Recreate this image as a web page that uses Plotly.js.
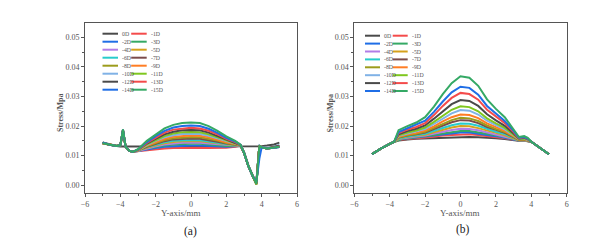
<!DOCTYPE html>
<html><head><meta charset="utf-8">
<script src="https://cdn.plot.ly/plotly-3.0.1.min.js"></script>
<style>html,body{margin:0;padding:0;background:#fff;}#chart{width:614px;height:244px;}</style>
</head><body><div id="chart"></div>
<script>
// ---- categories / legend labels ----
const seriesNames = ['0D','-1D','-2D','-3D','-4D','-5D','-6D','-7D','-8D','-9D','-10D','-11D','-12D','-13D','-14D','-15D'];
const seriesColors = ['#4a4a4a','#f44b4b','#1f6ee6','#35a965','#b27de6','#d5a11c','#27cccc','#7b4b4b','#9c9c1c','#ff7d24','#80b2e6','#7fc71f','#4a4a4a','#f44b4b','#1f6ee6','#35a965'];

// ---- panel (a): x positions (mm) and stress (MPa) ----
const xA = [-5,-4.6,-4.2,-4.0,-3.85,-3.7,-3.5,-3.3,-3.0,-2.5,-2.0,-1.5,-1.0,-0.5,0,0.5,1.0,1.5,2.0,2.5,2.8,3.0,3.25,3.5,3.7,3.87,4.0,4.3,4.7,5.0];
const aD0  = [.0145,.0138,.0133,.0131,.0131,.0130,.0130,.0130,.0130,.0130,.0130,.0130,.0130,.0130,.0130,.0130,.0130,.0130,.0130,.0130,.0131,.0131,.0131,.0131,.0131,.0132,.0132,.0134,.0138,.0144];
const aD1  = [.0142,.0137,.0133,.0135,.0181,.0130,.0117,.0113,.0115,.0119,.0122,.0124,.0126,.0127,.0127,.0127,.0126,.0126,.0127,.0130,.0134,.0110,.0065,.0030,.0006,.0134,.0128,.0124,.0127,.0131];
const aD2  = [.0144,.0137,.0133,.0135,.0182,.0130,.0117,.0113,.0116,.0122,.0126,.0130,.0132,.0134,.0134,.0134,.0132,.0131,.0130,.0132,.0134,.0110,.0065,.0030,.0010,.0134,.0128,.0124,.0127,.0129];
const aD3  = [.0142,.0137,.0133,.0135,.0182,.0130,.0117,.0113,.0116,.0124,.0130,.0134,.0138,.0140,.0140,.0140,.0137,.0135,.0133,.0133,.0134,.0110,.0065,.0030,.0004,.0134,.0128,.0124,.0127,.0130];
const aD4  = [.0144,.0137,.0133,.0135,.0183,.0130,.0117,.0113,.0116,.0125,.0132,.0138,.0142,.0144,.0144,.0144,.0141,.0138,.0135,.0134,.0135,.0110,.0065,.0030,.0008,.0134,.0128,.0124,.0127,.0132];
const aD5  = [.0142,.0137,.0133,.0135,.0183,.0130,.0117,.0113,.0117,.0127,.0135,.0142,.0146,.0149,.0149,.0149,.0145,.0141,.0137,.0135,.0135,.0110,.0065,.0030,.0003,.0134,.0128,.0124,.0127,.0130];
const aD6  = [.0144,.0137,.0133,.0135,.0184,.0130,.0117,.0113,.0117,.0129,.0137,.0145,.0150,.0152,.0153,.0152,.0149,.0144,.0139,.0136,.0135,.0110,.0065,.0030,.0007,.0134,.0128,.0124,.0127,.0131];
const aD7  = [.0142,.0137,.0133,.0135,.0184,.0130,.0117,.0113,.0118,.0130,.0140,.0149,.0155,.0157,.0158,.0157,.0153,.0147,.0141,.0137,.0135,.0110,.0065,.0030,.0005,.0134,.0128,.0124,.0127,.0129];
const aD8  = [.0144,.0137,.0133,.0135,.0185,.0130,.0117,.0113,.0118,.0132,.0143,.0153,.0159,.0162,.0163,.0162,.0157,.0151,.0143,.0139,.0135,.0110,.0065,.0030,.0009,.0134,.0128,.0124,.0127,.0132];
const aD9  = [.0142,.0137,.0133,.0135,.0185,.0130,.0117,.0113,.0118,.0134,.0146,.0157,.0164,.0167,.0168,.0167,.0162,.0154,.0145,.0140,.0135,.0110,.0065,.0030,.0004,.0134,.0128,.0124,.0127,.0130];
const aD10 = [.0144,.0137,.0133,.0135,.0186,.0130,.0117,.0113,.0119,.0136,.0150,.0162,.0169,.0173,.0174,.0173,.0167,.0158,.0148,.0141,.0136,.0110,.0065,.0030,.0006,.0134,.0129,.0126,.0130,.0136];
const aD11 = [.0142,.0137,.0133,.0135,.0186,.0130,.0117,.0113,.0119,.0138,.0153,.0166,.0175,.0179,.0180,.0179,.0172,.0162,.0151,.0142,.0136,.0110,.0065,.0030,.0003,.0134,.0128,.0124,.0127,.0130];
const aD12 = [.0144,.0137,.0133,.0135,.0187,.0130,.0117,.0113,.0120,.0141,.0157,.0172,.0181,.0186,.0187,.0186,.0178,.0167,.0154,.0144,.0136,.0110,.0065,.0030,.0008,.0134,.0128,.0125,.0129,.0134];
const aD13 = [.0142,.0137,.0133,.0135,.0187,.0130,.0117,.0113,.0120,.0143,.0161,.0178,.0188,.0192,.0194,.0192,.0184,.0172,.0157,.0146,.0136,.0110,.0065,.0030,.0005,.0134,.0128,.0124,.0127,.0131];
const aD14 = [.0144,.0137,.0133,.0135,.0188,.0130,.0117,.0113,.0121,.0146,.0166,.0184,.0195,.0200,.0202,.0200,.0191,.0177,.0160,.0148,.0137,.0110,.0065,.0030,.0012,.0090,.0128,.0124,.0127,.0129];
const aD15 = [.0142,.0137,.0133,.0135,.0189,.0130,.0117,.0113,.0122,.0150,.0172,.0192,.0204,.0210,.0212,.0210,.0200,.0184,.0165,.0150,.0137,.0110,.0065,.0030,.0004,.0134,.0128,.0124,.0127,.0130];

// ---- panel (b) ----
const xB = [-5,-4.5,-4.0,-3.75,-3.5,-3.3,-3.0,-2.5,-2.0,-1.5,-1.0,-0.5,0,0.5,1.0,1.5,2.0,2.5,3.0,3.3,3.6,3.8,4.0,4.5,5.0];
const bD0  = [.0105,.0124,.0140,.0147,.0151,.0153,.0155,.0157,.0158,.0160,.0161,.0162,.0163,.0163,.0162,.0161,.0159,.0156,.0152,.0150,.0150,.0149,.0147,.0126,.0105];
const bD1  = [.0105,.0124,.0140,.0147,.0153,.0155,.0157,.0159,.0161,.0165,.0168,.0170,.0172,.0172,.0170,.0167,.0163,.0159,.0154,.0151,.0151,.0150,.0147,.0126,.0105];
const bD2  = [.0105,.0124,.0140,.0147,.0154,.0156,.0158,.0161,.0163,.0168,.0172,.0175,.0178,.0178,.0175,.0170,.0166,.0161,.0155,.0151,.0151,.0150,.0147,.0126,.0105];
const bD3  = [.0105,.0124,.0140,.0147,.0154,.0157,.0159,.0162,.0165,.0170,.0175,.0180,.0183,.0183,.0179,.0174,.0169,.0163,.0156,.0151,.0152,.0150,.0147,.0126,.0105];
const bD4  = [.0105,.0124,.0140,.0147,.0156,.0158,.0161,.0165,.0168,.0175,.0181,.0187,.0191,.0190,.0186,.0179,.0173,.0166,.0157,.0152,.0152,.0151,.0147,.0126,.0105];
const bD5  = [.0105,.0124,.0140,.0147,.0157,.0160,.0163,.0167,.0171,.0179,.0188,.0195,.0200,.0199,.0193,.0184,.0177,.0169,.0159,.0152,.0153,.0151,.0147,.0126,.0105];
const bD6  = [.0105,.0124,.0140,.0147,.0159,.0162,.0165,.0169,.0174,.0184,.0194,.0203,.0209,.0208,.0201,.0190,.0181,.0173,.0161,.0153,.0154,.0152,.0147,.0126,.0105];
const bD7  = [.0105,.0124,.0140,.0147,.0161,.0164,.0168,.0172,.0178,.0190,.0202,.0213,.0220,.0219,.0210,.0197,.0187,.0177,.0163,.0154,.0154,.0152,.0147,.0126,.0105];
const bD8  = [.0105,.0124,.0140,.0147,.0162,.0165,.0169,.0174,.0181,.0194,.0208,.0220,.0228,.0226,.0217,.0202,.0190,.0180,.0164,.0154,.0155,.0153,.0147,.0126,.0105];
const bD9  = [.0105,.0124,.0140,.0147,.0164,.0168,.0172,.0177,.0185,.0199,.0216,.0230,.0239,.0237,.0227,.0209,.0196,.0184,.0166,.0155,.0156,.0153,.0147,.0126,.0105];
const bD10 = [.0105,.0124,.0140,.0147,.0167,.0170,.0175,.0181,.0190,.0207,.0226,.0243,.0254,.0252,.0239,.0218,.0203,.0189,.0169,.0156,.0157,.0154,.0147,.0126,.0105];
const bD11 = [.0105,.0124,.0140,.0147,.0169,.0173,.0178,.0185,.0195,.0214,.0236,.0255,.0267,.0264,.0250,.0226,.0209,.0194,.0171,.0157,.0158,.0155,.0147,.0126,.0105];
const bD12 = [.0105,.0124,.0140,.0147,.0172,.0177,.0183,.0191,.0202,.0225,.0251,.0274,.0288,.0285,.0268,.0240,.0219,.0201,.0175,.0158,.0160,.0156,.0147,.0126,.0105];
const bD13 = [.0105,.0124,.0140,.0147,.0176,.0181,.0188,.0197,.0210,.0237,.0268,.0295,.0312,.0308,.0289,.0255,.0231,.0210,.0180,.0159,.0162,.0157,.0147,.0126,.0105];
const bD14 = [.0105,.0124,.0140,.0147,.0180,.0185,.0192,.0203,.0218,.0248,.0283,.0314,.0333,.0329,.0306,.0268,.0241,.0217,.0184,.0161,.0163,.0158,.0147,.0126,.0105];
const bD15 = [.0105,.0124,.0140,.0147,.0186,.0192,.0200,.0212,.0230,.0266,.0308,.0345,.0368,.0363,.0336,.0290,.0258,.0230,.0190,.0163,.0166,.0160,.0147,.0126,.0105];

// ---- tick values ----
const xTickVals = [-6,-4,-2,0,2,4,6];
const yTickVals = [0,0.01,0.02,0.03,0.04,0.05];

const panelA = [aD0,aD1,aD2,aD3,aD4,aD5,aD6,aD7,aD8,aD9,aD10,aD11,aD12,aD13,aD14,aD15];
const panelB = [bD0,bD1,bD2,bD3,bD4,bD5,bD6,bD7,bD8,bD9,bD10,bD11,bD12,bD13,bD14,bD15];

const W = 614, H = 244;
const FONT = '"Liberation Serif","DejaVu Serif",serif';
const AX = '#555';
const fx = p => p / W, fy = p => 1 - p / H;

const traces = [];
panelA.forEach((ys, i) => traces.push({x: xA, y: ys, type: 'scatter', mode: 'lines', name: seriesNames[i],
  xaxis: 'x', yaxis: 'y', showlegend: false, line: {color: seriesColors[i], width: 2}}));
panelB.forEach((ys, i) => traces.push({x: xB, y: ys, type: 'scatter', mode: 'lines', name: seriesNames[i],
  xaxis: 'x2', yaxis: 'y2', showlegend: false, line: {color: seriesColors[i], width: 2}}));

function xAxis(domain, anchor) {
  return {domain, anchor, range: [-6, 6], tickvals: xTickVals, ticks: 'outside', ticklen: 3, tickwidth: 1,
    tickcolor: AX, showline: true, linecolor: AX, linewidth: 1, mirror: true, showgrid: false, zeroline: false,
    tickfont: {family: FONT, size: 8, color: AX},
    minor: {dtick: 1, ticks: 'outside', ticklen: 2, tickcolor: AX, showgrid: false}};
}
function yAxis(domain, anchor) {
  return {domain, anchor, range: [-0.0026, 0.0548], tickvals: yTickVals, tickformat: '.2f', ticks: 'outside',
    ticklen: 3, tickwidth: 1, tickcolor: AX, showline: true, linecolor: AX, linewidth: 1, mirror: true,
    showgrid: false, zeroline: false, tickfont: {family: FONT, size: 8, color: AX},
    minor: {dtick: 0.005, ticks: 'outside', ticklen: 2, tickcolor: AX, showgrid: false}};
}

const shapes = [], annotations = [];
// manual two-column legends
const legends = [
  {x0: 102.5, colStep: 28.7, len: 15.5, gap: 3.0, y0: 33.7, rowStep: 8.0},
  {x0: 365.0, colStep: 27.7, len: 15.0, gap: 3.0, y0: 35.7, rowStep: 7.9}
];
legends.forEach(L => {
  seriesNames.forEach((nm, i) => {
    const c = i % 2, r = Math.floor(i / 2);
    const xs = L.x0 + c * L.colStep, yy = L.y0 + r * L.rowStep;
    shapes.push({type: 'line', xref: 'paper', yref: 'paper', x0: fx(xs), x1: fx(xs + L.len), y0: fy(yy), y1: fy(yy),
      line: {color: seriesColors[i], width: 2}});
    annotations.push({xref: 'paper', yref: 'paper', x: fx(xs + L.len + L.gap), y: fy(yy), xanchor: 'left', yanchor: 'middle',
      text: nm, showarrow: false, borderpad: 0, font: {family: FONT, size: 5.8, color: AX}});
  });
});
// axis titles
[{cx: 181, ty: 60}, {cx: 460, ty: 329.5}].forEach(P => {
  annotations.push({xref: 'paper', yref: 'paper', x: fx(P.cx), y: fy(212.7), xanchor: 'center', yanchor: 'middle',
    text: 'Y-axis/mm', showarrow: false, font: {family: FONT, size: 9, color: AX}});
  annotations.push({xref: 'paper', yref: 'paper', x: fx(P.ty), y: fy(113), xanchor: 'center', yanchor: 'middle',
    text: '<b>Stress/Mpa</b>', textangle: -90, showarrow: false, font: {family: FONT, size: 8, color: AX}});
});
annotations.push({xref: 'paper', yref: 'paper', x: fx(190), y: fy(231.5), xanchor: 'center', yanchor: 'middle',
  text: '(a)', showarrow: false, font: {family: FONT, size: 11.5, color: '#222'}});
annotations.push({xref: 'paper', yref: 'paper', x: fx(462.5), y: fy(229.5), xanchor: 'center', yanchor: 'middle',
  text: '(b)', showarrow: false, font: {family: FONT, size: 11.5, color: '#222'}});

const yDom = [fy(193), fy(23)];
const layout = {
  width: W, height: H, margin: {l: 0, r: 0, t: 0, b: 0}, paper_bgcolor: '#fff', plot_bgcolor: '#fff',
  showlegend: false,
  xaxis: xAxis([fx(85), fx(297)], 'y'),
  yaxis: yAxis(yDom, 'x'),
  xaxis2: xAxis([fx(354.3), fx(566.7)], 'y2'),
  yaxis2: yAxis(yDom, 'x2'),
  shapes, annotations
};
Plotly.newPlot('chart', traces, layout, {staticPlot: true, displayModeBar: false});
</script></body></html>
